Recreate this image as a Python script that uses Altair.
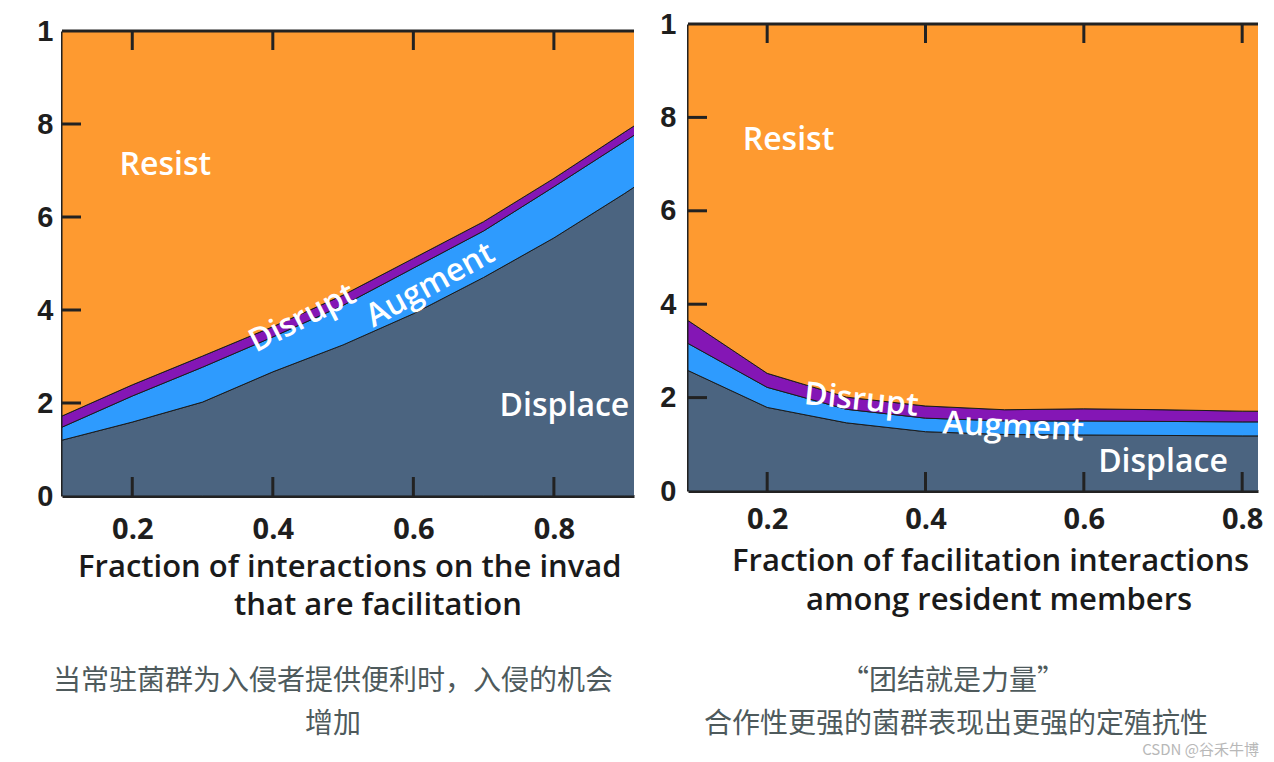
import altair as alt
import pandas as pd

# ---------------- data ----------------
categories = ["Displace", "Augment", "Disrupt", "Resist"]
colors = ["#4B6480", "#2E9BFE", "#8416B5", "#FE9A30"]

left_x = [0.1, 0.2, 0.3, 0.4, 0.5, 0.6, 0.7, 0.8, 0.9, 1.0]
left_displace = [0.120, 0.159, 0.202, 0.267, 0.325, 0.392, 0.470, 0.555, 0.650, 0.750]
left_augment = [0.028, 0.056, 0.075, 0.075, 0.085, 0.098, 0.100, 0.110, 0.112, 0.110]
left_disrupt = [0.024, 0.024, 0.024, 0.022, 0.022, 0.021, 0.020, 0.018, 0.020, 0.020]

right_x = [0.1, 0.2, 0.3, 0.4, 0.5, 0.6, 0.7, 0.8, 0.9]
right_displace = [0.258, 0.179, 0.146, 0.127, 0.121, 0.120, 0.119, 0.118, 0.118]
right_augment = [0.058, 0.043, 0.029, 0.029, 0.029, 0.030, 0.030, 0.030, 0.030]
right_disrupt = [0.049, 0.030, 0.026, 0.026, 0.024, 0.026, 0.025, 0.023, 0.022]

x_tick_values = [0.2, 0.4, 0.6, 0.8]
y_tick_values = [0.2, 0.4, 0.6, 0.8]
y_label_values = [0, 0.2, 0.4, 0.6, 0.8, 1.0]

left_label_text = ["Resist", "Disrupt", "Augment", "Displace"]
left_label_x = [0.247, 0.442, 0.624, 0.815]
left_label_y = [0.712, 0.383, 0.454, 0.194]
left_label_angle = [0, 333, 331, 0]

right_label_text = ["Resist", "Disrupt", "Augment", "Displace"]
right_label_x = [0.227, 0.319, 0.511, 0.700]
right_label_y = [0.752, 0.195, 0.137, 0.062]
right_label_angle = [0, 6, 3, 0]

left_title = ["Fraction of interactions on the invader", "that are facilitation"]
right_title = ["Fraction of facilitation interactions", "among resident members"]
left_caption = ["当常驻菌群为入侵者提供便利时，入侵的机会", "增加"]
right_caption = ["“团结就是力量”", "合作性更强的菌群表现出更强的定殖抗性"]
watermark = "CSDN @谷禾牛博"

AXIS = "#222222"
CAPTION = "#4e5a5c"
LABEL_FONT = "Open Sans"
TICK_LEN = 19


def stacked(xs, displace, augment, disrupt):
    rows = []
    for i, x in enumerate(xs):
        segs = [displace[i], augment[i], disrupt[i],
                1 - displace[i] - augment[i] - disrupt[i]]
        base = 0.0
        for cat, s in zip(categories, segs):
            rows.append({"x": x, "category": cat, "y0": base, "y1": base + s})
            base += s
    return pd.DataFrame(rows)


def text_at(txt, x, y, size, align="center", color="#1a1a1a", font=LABEL_FONT,
            weight=600, limit=0):
    kw = dict(text=txt, font=font, fontSize=size, fontWeight=weight, color=color,
              align=align, baseline="middle")
    if limit:
        kw["limit"] = limit
        kw["ellipsis"] = "\u200b"
    return alt.Chart(pd.DataFrame({"a": [0]})).mark_text(**kw).encode(
        x=alt.value(x), y=alt.value(y))


def panel(xs, displace, augment, disrupt, x_max, width, plot_h,
          lab_text, lab_x, lab_y, lab_angle, title, caption, geo):
    top_px = geo["top"]
    height = plot_h + top_px
    xscale = alt.Scale(domain=[0.1, x_max], nice=False, zero=False)
    yscale = alt.Scale(domain=[0, 1], nice=False, zero=False, range=[height, top_px])
    df = stacked(xs, displace, augment, disrupt)

    area = alt.Chart(df).mark_area(clip=True, stroke="#1b1b1b", strokeWidth=1,
                                   strokeJoin="round").encode(
        x=alt.X("x:Q", scale=xscale, axis=alt.Axis(
            values=x_tick_values, format=".1f", ticks=False, grid=False,
            domainColor=AXIS, domainWidth=3, labelFont=LABEL_FONT,
            labelFontWeight="bold", labelFontSize=29, labelColor="#1e1e1e",
            labelPadding=geo["xpad"], title=None, labelOverlap=False)),
        y=alt.Y("y0:Q", scale=yscale, axis=alt.Axis(
            values=y_label_values,
            labelExpr="datum.value == 1 ? '1' : datum.value == 0 ? '0' : format(datum.value * 10, '.0f')",
            ticks=False, grid=False, domainColor=AXIS, domainWidth=3,
            labelFont="Liberation Sans", labelFontWeight="bold", labelFontSize=29,
            labelColor="#1e1e1e", labelPadding=geo["ypad"], title=None,
            labelOverlap=False)),
        y2="y1:Q",
        color=alt.Color("category:N", scale=alt.Scale(domain=categories, range=colors),
                        legend=None),
    )

    ldf = pd.DataFrame({"text": lab_text, "x": lab_x, "y": lab_y, "angle": lab_angle})
    labels = alt.Chart(ldf).mark_text(font=LABEL_FONT, fontWeight=600, fontSize=32,
                                      color="white", align="center",
                                      baseline="middle").encode(
        x=alt.X("x:Q", scale=xscale, axis=None),
        y=alt.Y("y:Q", scale=yscale, axis=None),
        text="text:N",
        angle=alt.Angle("angle:Q", scale=None),
    )

    xt = pd.DataFrame({"v": x_tick_values, "top": [1.0] * len(x_tick_values)})
    yt = pd.DataFrame({"v": y_tick_values})
    frame_top = alt.Chart(pd.DataFrame({"v": [1.0]})).mark_rule(
        color=AXIS, strokeWidth=3).encode(
        y=alt.Y("v:Q", scale=yscale, axis=None),
        x=alt.value(0), x2=alt.value(width))
    top_ticks = alt.Chart(xt).mark_rule(color=AXIS, strokeWidth=3).encode(
        x=alt.X("v:Q", scale=xscale, axis=None),
        y=alt.Y("top:Q", scale=yscale, axis=None), y2=alt.value(top_px + TICK_LEN))
    bottom_ticks = alt.Chart(xt).mark_rule(color=AXIS, strokeWidth=3).encode(
        x=alt.X("v:Q", scale=xscale, axis=None),
        y=alt.value(height), y2=alt.value(height - TICK_LEN))
    left_ticks = alt.Chart(yt).mark_rule(color=AXIS, strokeWidth=3).encode(
        y=alt.Y("v:Q", scale=yscale, axis=None),
        x=alt.value(0), x2=alt.value(TICK_LEN))

    spacer = alt.Chart(pd.DataFrame({"a": [0]})).mark_rule(
        color="white", strokeWidth=1).encode(
        x=alt.value(geo["sx"]), x2=alt.value(geo["sx"] + 12),
        y=alt.value(geo["sy"]), y2=alt.value(geo["sy"]))

    overlays = [
        text_at(title[0], geo["t1x"], geo["t1y"], 31, align="left", limit=geo["t1lim"]),
        text_at(title[1], geo["t2x"], geo["t2y"], 31),
        text_at(caption[0], geo["c1x"], geo["c1y"], 28, color=CAPTION,
                font="Noto Sans CJK SC", weight=400),
        text_at(caption[1], geo["c2x"], geo["c2y"], 28, color=CAPTION,
                font="Noto Sans CJK SC", weight=400),
    ]
    layers = [area, labels, frame_top, top_ticks, bottom_ticks, left_ticks, spacer] + overlays
    if geo.get("wm"):
        layers.append(text_at(watermark, geo["wmx"], geo["wmy"], 15, align="right",
                              color="#b8b8b8", font="Noto Sans CJK SC", weight=400))
    return alt.layer(*layers).resolve_axis(x="independent", y="independent").properties(
        width=width, height=height)


# pixel geometry relative to each panel's origin (page origin of both panels: y=24)
left_geo = dict(top=7, xpad=19, ypad=9, sx=-53.5, sy=-15.5,
                t1x=16, t1y=544, t1lim=556, t2x=316, t2y=582,
                c1x=271, c1y=658, c2x=271, c2y=701)
right_geo = dict(top=0, xpad=14, ypad=12, sx=-40, sy=-15.5,
                 t1x=44, t1y=538, t1lim=545, t2x=311, t2y=577,
                 c1x=265, c1y=658, c2x=268, c2y=701,
                 wm=True, wmx=571, wmy=726)

left_chart = panel(left_x, left_displace, left_augment, left_disrupt, 0.914, 572, 465,
                   left_label_text, left_label_x, left_label_y, left_label_angle,
                   left_title, left_caption, left_geo)
right_chart = panel(right_x, right_displace, right_augment, right_disrupt, 0.82, 570, 467,
                    right_label_text, right_label_x, right_label_y, right_label_angle,
                    right_title, right_caption, right_geo)

chart = alt.hconcat(left_chart, right_chart, spacing=11).properties(
    padding=0).configure_view(stroke=None)

chart.save("out.html", embed_options={"renderer": "svg", "actions": False})
